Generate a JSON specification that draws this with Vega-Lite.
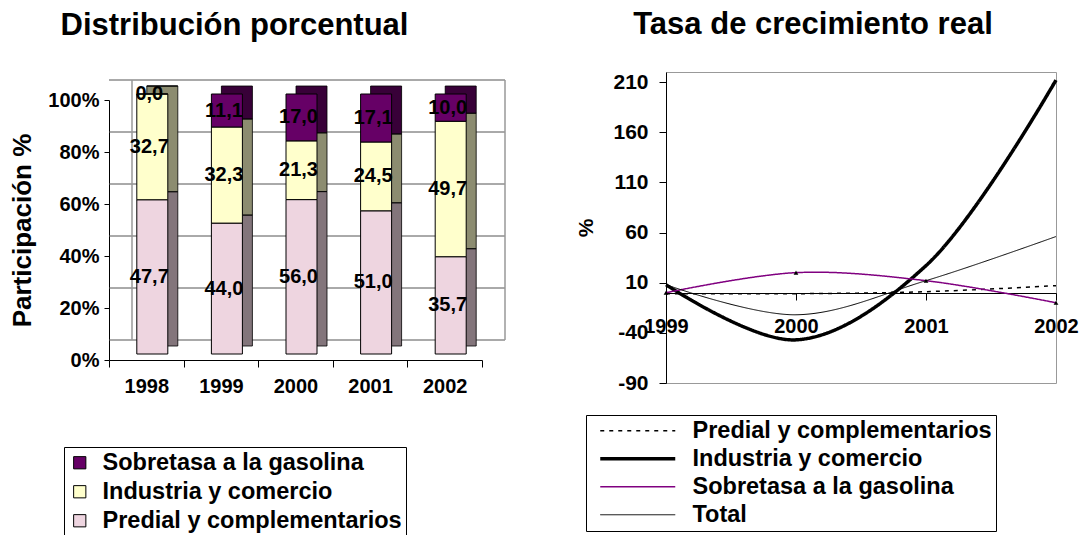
{
  "$schema": "https://vega.github.io/schema/vega-lite/v6.json",
  "background": "white",
  "padding": {"left": 9, "top": 8, "right": 0, "bottom": 0},
  "config": {
    "font": "Liberation Sans",
    "locale": {"number": {"decimal": ",", "thousands": ".", "grouping": [3], "currency": ["$", ""], "minus": "-"}},
    "axis": {"labelFontWeight": "bold", "labelColor": "black", "titleColor": "black", "domainColor": "black", "tickColor": "black", "titleFontWeight": "bold", "grid": false},
    "legend": {"labelFontWeight": "bold", "labelColor": "black"},
    "title": {"fontWeight": "bold", "color": "black"}
  },
  "spacing": 69,
  "resolve": {"scale": {"color": "independent", "strokeDash": "independent", "strokeWidth": "independent"}, "legend": {"color": "independent", "strokeDash": "independent", "strokeWidth": "independent"}},
  "hconcat": [
    {
      "width": 373,
      "height": 288,
      "view": {"stroke": null},
      "title": {"text": "Distribución porcentual", "fontSize": 31, "frame": "group", "anchor": "middle", "dx": -61, "offset": 30},
      "layer": [
        {
          "data": {"values": [{"g": 0}, {"g": 0.2}, {"g": 0.4}, {"g": 0.6}, {"g": 0.8}, {"g": 1}]},
          "mark": {"type": "rule", "color": "#555", "strokeWidth": 1, "xOffset": 23, "x2Offset": 23, "yOffset": -20, "y2Offset": -20},
          "encoding": {"y": {"field": "g", "type": "quantitative", "scale": {"domain": [0, 1], "nice": false, "range": [288, 28]}, "axis": {"title": "Participación %", "titleFontSize": 26, "titlePadding": 12, "format": ".0%", "values": [0, 0.2, 0.4, 0.6, 0.8, 1], "labelFontSize": 20, "tickSize": 5, "labelPadding": 5}}}
        },
        {
          "data": {"values": [{"year": "1998"}]},
          "mark": {"type": "rule", "color": "#999", "strokeWidth": 1.5, "xOffset": 23, "yOffset": -20, "y2Offset": -20},
          "encoding": {
            "x": {"field": "year", "type": "ordinal", "bandPosition": 0, "scale": {"paddingInner": 0, "paddingOuter": 0}, "axis": {"title": null, "labelAngle": 0, "labelFontSize": 20, "tickSize": 7, "labelPadding": 9, "tickBand": "extent"}},
            "y": {"datum": 0, "type": "quantitative", "axis": {"title": "Participación %", "titleFontSize": 26, "titlePadding": 12, "format": ".0%", "values": [0, 0.2, 0.4, 0.6, 0.8, 1], "labelFontSize": 20, "tickSize": 5, "labelPadding": 5}},
            "y2": {"datum": 1}
          }
        },
        {
          "data": {"values": [{"year": "2002"}]},
          "mark": {"type": "rule", "color": "#999", "strokeWidth": 1.5, "xOffset": 23, "yOffset": -20, "y2Offset": -20},
          "encoding": {
            "x": {"field": "year", "type": "ordinal", "bandPosition": 1, "scale": {"paddingInner": 0, "paddingOuter": 0}, "axis": {"title": null, "labelAngle": 0, "labelFontSize": 20, "tickSize": 7, "labelPadding": 9, "tickBand": "extent"}},
            "y": {"datum": 0, "type": "quantitative", "axis": {"title": "Participación %", "titleFontSize": 26, "titlePadding": 12, "format": ".0%", "values": [0, 0.2, 0.4, 0.6, 0.8, 1], "labelFontSize": 20, "tickSize": 5, "labelPadding": 5}},
            "y2": {"datum": 1}
          }
        },
        {
          "data": {"values": [
            {"year": "1998", "cat": "Predial y complementarios", "val": 47.7, "ord": 1},
            {"year": "1998", "cat": "Industria y comercio", "val": 32.7, "ord": 2},
            {"year": "1998", "cat": "Sobretasa a la gasolina", "val": 0.0, "ord": 3},
            {"year": "1999", "cat": "Predial y complementarios", "val": 44.0, "ord": 1},
            {"year": "1999", "cat": "Industria y comercio", "val": 32.3, "ord": 2},
            {"year": "1999", "cat": "Sobretasa a la gasolina", "val": 11.1, "ord": 3},
            {"year": "2000", "cat": "Predial y complementarios", "val": 56.0, "ord": 1},
            {"year": "2000", "cat": "Industria y comercio", "val": 21.3, "ord": 2},
            {"year": "2000", "cat": "Sobretasa a la gasolina", "val": 17.0, "ord": 3},
            {"year": "2001", "cat": "Predial y complementarios", "val": 51.0, "ord": 1},
            {"year": "2001", "cat": "Industria y comercio", "val": 24.5, "ord": 2},
            {"year": "2001", "cat": "Sobretasa a la gasolina", "val": 17.1, "ord": 3},
            {"year": "2002", "cat": "Predial y complementarios", "val": 35.7, "ord": 1},
            {"year": "2002", "cat": "Industria y comercio", "val": 49.7, "ord": 2},
            {"year": "2002", "cat": "Sobretasa a la gasolina", "val": 10.0, "ord": 3}
          ]},
          "transform": [
            {"stack": "val", "groupby": ["year"], "sort": [{"field": "ord", "order": "ascending"}], "offset": "normalize", "as": ["v0", "v1"]},
            {"calculate": "(datum.v0 + datum.v1) / 2", "as": "mid"}
          ],
          "layer": [
            {
              "mark": {"type": "bar", "width": 31, "xOffset": 16, "yOffset": -14, "y2Offset": -14, "strokeWidth": 0},
              "encoding": {
                "x": {"field": "year", "type": "ordinal", "scale": {"paddingInner": 0, "paddingOuter": 0}, "axis": {"title": null, "labelAngle": 0, "labelFontSize": 20, "tickSize": 7, "labelPadding": 9, "tickBand": "extent"}},
                "y": {"field": "v1", "type": "quantitative", "axis": {"title": "Participación %", "titleFontSize": 26, "titlePadding": 12, "format": ".0%", "values": [0, 0.2, 0.4, 0.6, 0.8, 1], "labelFontSize": 20, "tickSize": 5, "labelPadding": 5}},
                "y2": {"field": "v0"},
                "color": {"field": "cat", "type": "nominal", "scale": {"domain": ["Sobretasa a la gasolina", "Industria y comercio", "Predial y complementarios"], "range": ["#660066", "#ffffcc", "#eed5e0"]},
                  "legend": {"orient": "none", "legendX": -45, "legendY": 375, "title": null, "symbolType": "square", "symbolSize": 150, "symbolStrokeColor": "black", "symbolStrokeWidth": 1, "labelFontSize": 23.5, "labelOffset": 11, "labelLimit": 400, "strokeColor": "black", "fillColor": "white", "padding": 4, "rowPadding": 4, "symbolOffset": 0}}
              }
            },
            {
              "mark": {"type": "bar", "width": 31, "xOffset": 16, "yOffset": -14, "y2Offset": -14, "fill": "black", "fillOpacity": 0.45, "stroke": "black", "strokeWidth": 0.8},
              "encoding": {
                "x": {"field": "year", "type": "ordinal", "scale": {"paddingInner": 0, "paddingOuter": 0}, "axis": {"title": null, "labelAngle": 0, "labelFontSize": 20, "tickSize": 7, "labelPadding": 9, "tickBand": "extent"}},
                "y": {"field": "v1", "type": "quantitative", "axis": {"title": "Participación %", "titleFontSize": 26, "titlePadding": 12, "format": ".0%", "values": [0, 0.2, 0.4, 0.6, 0.8, 1], "labelFontSize": 20, "tickSize": 5, "labelPadding": 5}},
                "y2": {"field": "v0"}
              }
            },
            {
              "mark": {"type": "bar", "width": 31, "xOffset": 6, "yOffset": -6, "y2Offset": -6, "stroke": "black", "strokeWidth": 1},
              "encoding": {
                "x": {"field": "year", "type": "ordinal", "scale": {"paddingInner": 0, "paddingOuter": 0}, "axis": {"title": null, "labelAngle": 0, "labelFontSize": 20, "tickSize": 7, "labelPadding": 9, "tickBand": "extent"}},
                "y": {"field": "v1", "type": "quantitative", "scale": {"domain": [0, 1], "nice": false, "range": [288, 28]}, "axis": {"title": "Participación %", "titleFontSize": 26, "titlePadding": 12, "format": ".0%", "values": [0, 0.2, 0.4, 0.6, 0.8, 1], "labelFontSize": 20, "tickSize": 5, "labelPadding": 5}},
                "y2": {"field": "v0"},
                "color": {"field": "cat", "type": "nominal", "scale": {"domain": ["Sobretasa a la gasolina", "Industria y comercio", "Predial y complementarios"], "range": ["#660066", "#ffffcc", "#eed5e0"]},
                  "legend": {"orient": "none", "legendX": -45, "legendY": 375, "title": null, "symbolType": "square", "symbolSize": 150, "symbolStrokeColor": "black", "symbolStrokeWidth": 1, "labelFontSize": 23.5, "labelOffset": 11, "labelLimit": 400, "strokeColor": "black", "fillColor": "white", "padding": 4, "rowPadding": 4, "symbolOffset": 0}}
              }
            },
            {
              "mark": {"type": "text", "fontSize": 20, "fontWeight": "bold", "color": "black", "xOffset": 3, "yOffset": -6},
              "encoding": {
                "x": {"field": "year", "type": "ordinal", "scale": {"paddingInner": 0, "paddingOuter": 0}, "axis": {"title": null, "labelAngle": 0, "labelFontSize": 20, "tickSize": 7, "labelPadding": 9, "tickBand": "extent"}},
                "y": {"field": "mid", "type": "quantitative", "stack": null, "axis": {"title": "Participación %", "titleFontSize": 26, "titlePadding": 12, "format": ".0%", "values": [0, 0.2, 0.4, 0.6, 0.8, 1], "labelFontSize": 20, "tickSize": 5, "labelPadding": 5}},
                "text": {"field": "val", "type": "quantitative", "format": ".1f"}
              }
            }
          ]
        }
      ]
    },
    {
      "width": 390,
      "height": 311,
      "view": {"stroke": "#999"},
      "title": {"text": "Tasa de crecimiento real", "fontSize": 31, "frame": "group", "anchor": "middle", "dx": -48, "offset": 30},
      "data": {"values": [
        {"year": "1999", "serie": "Predial y complementarios", "val": -1},
        {"year": "2000", "serie": "Predial y complementarios", "val": -1},
        {"year": "2001", "serie": "Predial y complementarios", "val": 1},
        {"year": "2002", "serie": "Predial y complementarios", "val": 7},
        {"year": "1999", "serie": "Industria y comercio", "val": 8},
        {"year": "2000", "serie": "Industria y comercio", "val": -47},
        {"year": "2001", "serie": "Industria y comercio", "val": 27},
        {"year": "2002", "serie": "Industria y comercio", "val": 212},
        {"year": "1999", "serie": "Sobretasa a la gasolina", "val": 0},
        {"year": "2000", "serie": "Sobretasa a la gasolina", "val": 20},
        {"year": "2001", "serie": "Sobretasa a la gasolina", "val": 12},
        {"year": "2002", "serie": "Sobretasa a la gasolina", "val": -10},
        {"year": "1999", "serie": "Total", "val": 8},
        {"year": "2000", "serie": "Total", "val": -22},
        {"year": "2001", "serie": "Total", "val": 12},
        {"year": "2002", "serie": "Total", "val": 56}
      ]},
      "layer": [
        {
          "mark": {"type": "line", "interpolate": "catmull-rom"},
          "encoding": {
            "x": {"field": "year", "type": "ordinal", "scale": {"type": "point", "padding": 0}, "axis": {"offset": -90, "title": null, "labelAngle": 0, "labelFontSize": 20, "tickSize": 7, "labelPadding": 16}},
            "y": {"field": "val", "type": "quantitative", "scale": {"domain": [-90, 220], "nice": false, "zero": false}, "axis": {"values": [-90, -40, 10, 60, 110, 160, 210], "title": "%", "titleFontSize": 21, "titlePadding": 16, "labelFontSize": 21, "tickSize": 7, "labelPadding": 11}},
            "color": {"field": "serie", "type": "nominal", "scale": {"domain": ["Predial y complementarios", "Industria y comercio", "Sobretasa a la gasolina", "Total"], "range": ["black", "black", "#800080", "black"]},
              "legend": {"orient": "none", "legendX": -80, "legendY": 343, "title": null, "symbolType": "M-7.5,0H7.5", "symbolSize": 100, "labelFontSize": 23.5, "labelOffset": 43, "labelLimit": 400, "strokeColor": "black", "fillColor": "white", "padding": 4, "rowPadding": 3, "symbolOffset": 36}},
            "strokeDash": {"field": "serie", "type": "nominal", "scale": {"domain": ["Predial y complementarios", "Industria y comercio", "Sobretasa a la gasolina", "Total"], "range": [[4, 5], [1, 0], [1, 0], [1, 0]]}, "legend": {"orient": "none", "legendX": -80, "legendY": 343, "title": null, "symbolType": "M-7.5,0H7.5", "symbolSize": 100, "labelFontSize": 23.5, "labelOffset": 43, "labelLimit": 400, "strokeColor": "black", "fillColor": "white", "padding": 4, "rowPadding": 3, "symbolOffset": 36}},
            "strokeWidth": {"field": "serie", "type": "nominal", "scale": {"type": "ordinal", "domain": ["Predial y complementarios", "Industria y comercio", "Sobretasa a la gasolina", "Total"], "range": [1.5, 3.5, 1.5, 1]}, "legend": {"orient": "none", "legendX": -80, "legendY": 343, "title": null, "symbolType": "M-7.5,0H7.5", "symbolSize": 100, "labelFontSize": 23.5, "labelOffset": 43, "labelLimit": 400, "strokeColor": "black", "fillColor": "white", "padding": 4, "rowPadding": 3, "symbolOffset": 36}}
          }
        },
        {
          "transform": [{"filter": "datum.serie == 'Sobretasa a la gasolina'"}],
          "mark": {"type": "point", "shape": "triangle-up", "filled": true, "color": "black", "size": 22, "opacity": 1},
          "encoding": {
            "x": {"field": "year", "type": "ordinal"},
            "y": {"field": "val", "type": "quantitative"}
          }
        }
      ]
    }
  ]
}
